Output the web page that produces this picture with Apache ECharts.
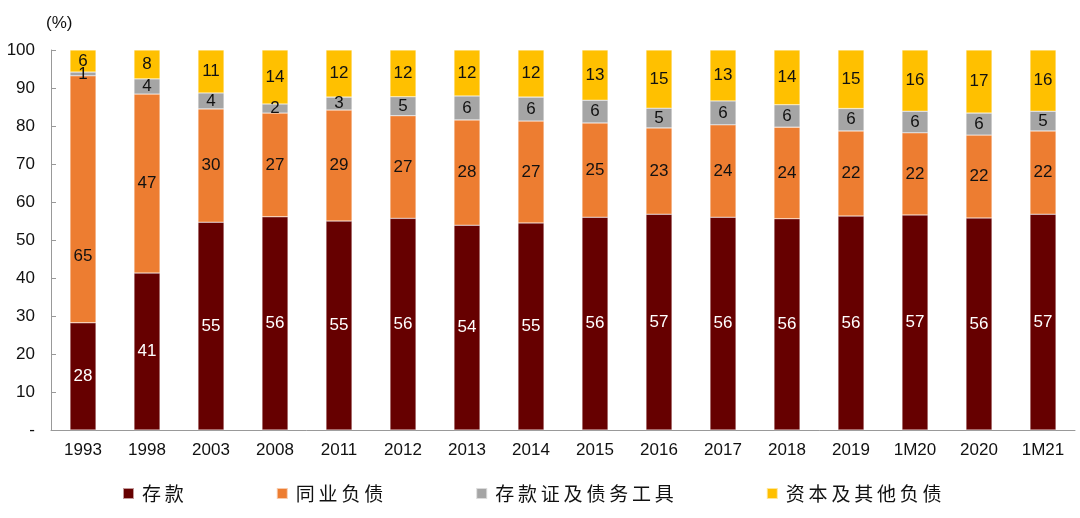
<!DOCTYPE html>
<html>
<head>
<meta charset="utf-8">
<script src="https://cdn.jsdelivr.net/npm/echarts@6/dist/echarts.min.js"></script>
<style>
  html, body { margin: 0; padding: 0; background: #fff; }
  #main { width: 1080px; height: 518px; }
</style>
</head>
<body>
<div id="main"></div>
<script>
// 年份
var categories = ['1993', '1998', '2003', '2008', '2011', '2012', '2013', '2014',
                  '2015', '2016', '2017', '2018', '2019', '1M20', '2020', '1M21'];
// 各项负债占比 (%)
var deposits   = [28.2, 41.3, 54.7, 56.1, 55.0, 55.7, 53.9, 54.5, 56.0, 56.8, 56.0, 55.6, 56.3, 56.6, 55.8, 56.8];
var interbank  = [65.0, 47.1, 29.8, 27.3, 29.2, 27.0, 27.7, 26.8, 24.8, 22.7, 24.3, 24.1, 22.4, 21.6, 21.8, 21.9];
var cdsDebt    = [1.0, 4.0, 4.2, 2.4, 3.4, 5.0, 6.3, 6.3, 6.0, 5.2, 6.3, 5.9, 5.9, 5.7, 5.8, 5.2];
var capital    = [5.8, 7.6, 11.3, 14.2, 12.4, 12.3, 12.1, 12.4, 13.2, 15.3, 13.4, 14.4, 15.4, 16.1, 16.6, 16.1];
var yTicks = [0, 10, 20, 30, 40, 50, 60, 70, 80, 90, 100];

var dom = document.getElementById('main');
var myChart = echarts.init(dom);
var numFont = 'Liberation Sans, Arial, sans-serif';

function barSeries(name, data, color, labelColor) {
    return {
        name: name,
        type: 'bar',
        stack: 'total',
        barWidth: 26,
        data: data,
        itemStyle: { color: color, borderColor: 'rgba(255,255,255,0.6)', borderWidth: 0.5 },
        label: {
            show: true,
            position: 'inside',
            color: labelColor,
            fontSize: 17,
            fontFamily: numFont,
            formatter: function (p) { return Math.round(p.value); }
        }
    };
}

// 1993年同业负债的标签在原图中偏下
var interbankData = interbank.map(function (v, i) {
    return i === 0 ? { value: v, label: { offset: [0, 57] } } : v;
});

var option = {
    animation: false,
    grid: { left: 51, right: 5, top: 50, bottom: 88 },
    legend: {
        left: 117,
        bottom: 10,
        itemWidth: 11,
        itemHeight: 11,
        itemGap: 92,
        icon: 'rect',
        formatter: function (name) { return name.split('').join('\u2009'); },
        textStyle: { fontSize: 19, color: '#111', fontFamily: 'Noto Sans CJK SC', padding: [0, 0, 0, 3] },
        data: ['存款', '同业负债', '存款证及债务工具', '资本及其他负债']
    },
    xAxis: {
        type: 'category',
        data: categories,
        axisLine: { lineStyle: { color: '#999' } },
        axisTick: { inside: true, length: 5, lineStyle: { color: '#999' } },
        axisLabel: { color: '#111', fontSize: 17, margin: 12, fontFamily: numFont }
    },
    yAxis: {
        type: 'value',
        name: '(%)',
        nameLocation: 'end',
        nameGap: 18,
        nameTextStyle: { color: '#111', fontSize: 17, align: 'left', padding: [0, 0, 0, -5], fontFamily: numFont },
        min: yTicks[0],
        max: yTicks[yTicks.length - 1],
        interval: 10,
        splitLine: { show: false },
        axisLine: { show: true, lineStyle: { color: '#999' } },
        axisTick: { show: true, inside: true, length: 5, lineStyle: { color: '#999' } },
        axisLabel: {
            color: '#111', fontSize: 17, margin: 16,
            fontFamily: numFont,
            formatter: function (v) { return v === 0 ? '-' : v; }
        }
    },
    series: [
        barSeries('存款', deposits, '#660000', '#fff'),
        barSeries('同业负债', interbankData, '#ED7D31', '#111'),
        barSeries('存款证及债务工具', cdsDebt, '#A5A5A5', '#111'),
        barSeries('资本及其他负债', capital, '#FFC000', '#111')
    ]
};

myChart.setOption(option);
</script>
</body>
</html>
